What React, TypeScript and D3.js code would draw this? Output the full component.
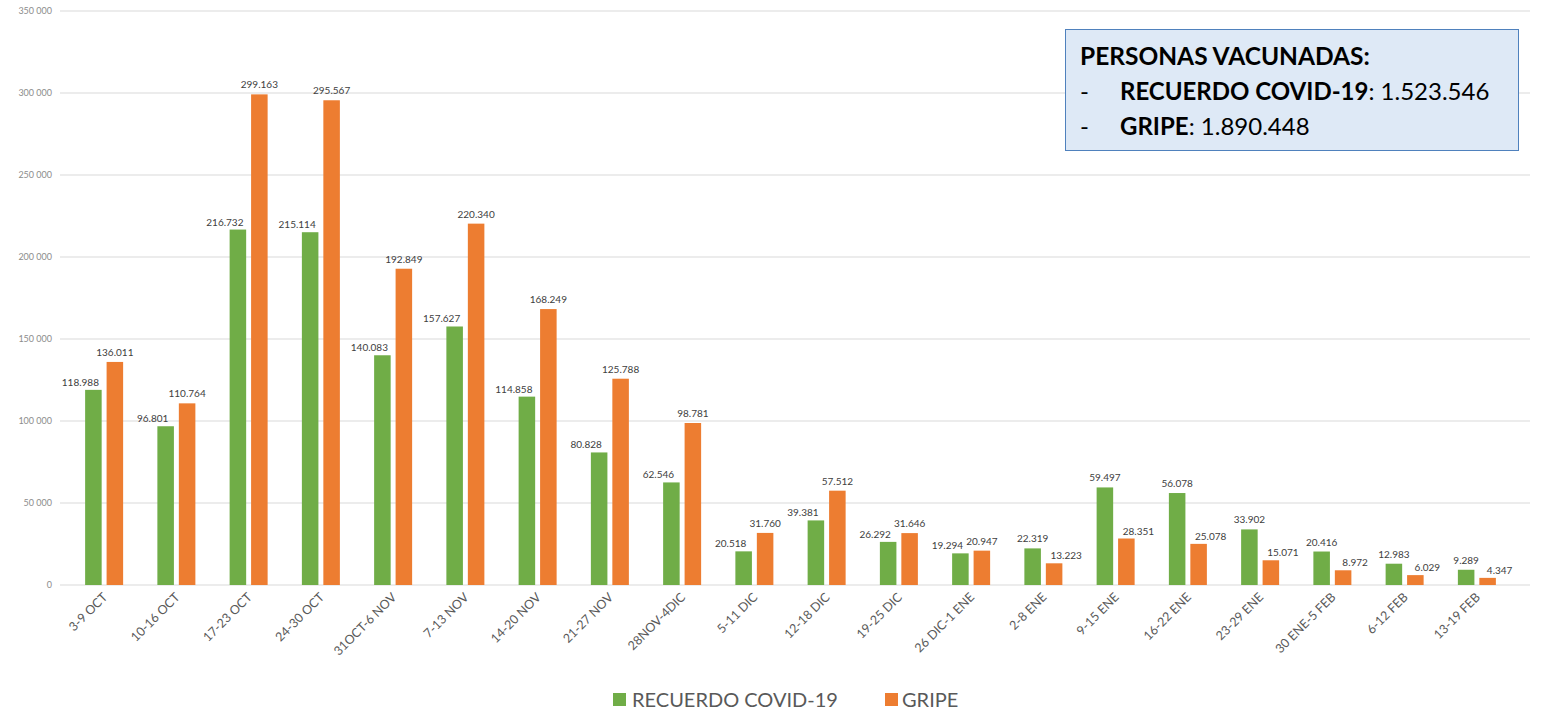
import React from "react";
import * as d3 from "d3";

const categories = [
  "3-9 OCT", "10-16 OCT", "17-23 OCT", "24-30 OCT", "31OCT-6 NOV", "7-13 NOV",
  "14-20 NOV", "21-27 NOV", "28NOV-4DIC", "5-11 DIC", "12-18 DIC", "19-25 DIC",
  "26 DIC-1 ENE", "2-8 ENE", "9-15 ENE", "16-22 ENE", "23-29 ENE", "30 ENE-5 FEB",
  "6-12 FEB", "13-19 FEB",
];
const covidValues = [
  118988, 96801, 216732, 215114, 140083, 157627, 114858, 80828, 62546, 20518,
  39381, 26292, 19294, 22319, 59497, 56078, 33902, 20416, 12983, 9289,
];
const gripeValues = [
  136011, 110764, 299163, 295567, 192849, 220340, 168249, 125788, 98781, 31760,
  57512, 31646, 20947, 13223, 28351, 25078, 15071, 8972, 6029, 4347,
];
const seriesNames = ["RECUERDO COVID-19", "GRIPE"];
const seriesColors = ["#70AD47", "#ED7D31"];
const yTicks = [0, 50000, 100000, 150000, 200000, 250000, 300000, 350000];
const totalCovid = "1.523.546";
const totalGripe = "1.890.448";

const FONT = "Lato, 'Open Sans', sans-serif";

const spaceFmt = d3.formatLocale({ decimal: ",", thousands: " ", grouping: [3], currency: ["", ""] }).format(",d");
const dotFmt = d3.formatLocale({ decimal: ",", thousands: ".", grouping: [3], currency: ["", ""] }).format(",d");

export default function App() {
  const W = 1550, H = 714;
  const x0 = d3.scaleBand<string>().domain(categories).range([68, 1513]).paddingInner(0).paddingOuter(0);
  const x1 = d3.scaleBand<string>().domain(seriesNames).range([-19, 19]).paddingInner(0.23);
  const y = d3.scaleLinear().domain([0, 350000]).range([585, 11]);
  const series = [covidValues, gripeValues];

  return (
    <svg width={W} height={H} style={{ position: "absolute", left: 0, top: 0, background: "#fff" }}>
      <rect x={0} y={0} width={W} height={H} fill="#fff" />
      {yTicks.map((t) => (
        <g key={t}>
          <line x1={60} x2={1530} y1={y(t)} y2={y(t)} stroke="#d9d9d9" strokeWidth={1} />
          <text x={52} y={y(t) + 3} textAnchor="end" fontFamily={FONT} fontSize={9} fill="#8c8c8c">
            {spaceFmt(t)}
          </text>
        </g>
      ))}
      {categories.map((c, i) => {
        const cx = (x0(c) as number) + x0.bandwidth() / 2;
        return (
          <g key={c}>
            {series.map((vals, s) => {
              const v = vals[i];
              const bx = cx + (x1(seriesNames[s]) as number);
              const other = series[1 - s][i];
              let dx = 0;
              if (v < other) dx = s === 0 ? -13 : 12;
              return (
                <g key={s}>
                  <rect x={bx} y={y(v)} width={x1.bandwidth()} height={y(0) - y(v)} fill={seriesColors[s]} />
                  <text
                    x={bx + x1.bandwidth() / 2 + dx}
                    y={y(v) - (dx !== 0 ? 4 : 6)}
                    textAnchor="middle"
                    fontFamily={FONT}
                    fontSize={10}
                    fill="#404040"
                  >
                    {dotFmt(v)}
                  </text>
                </g>
              );
            })}
            <text
              transform={`translate(${cx + 4},${598}) rotate(-45)`}
              textAnchor="end"
              fontFamily={FONT}
              fontSize={12.5}
              fill="#595959"
            >
              {c}
            </text>
          </g>
        );
      })}
      {/* legend */}
      <rect x={613} y={693} width={13} height={13} fill={seriesColors[0]} />
      <text x={632} y={707} fontFamily={FONT} fontSize={20} fill="#595959">{seriesNames[0]}</text>
      <rect x={885} y={693} width={13} height={13} fill={seriesColors[1]} />
      <text x={902} y={707} fontFamily={FONT} fontSize={20} fill="#595959">{seriesNames[1]}</text>
      {/* summary box */}
      <rect x={1065.5} y={29.5} width={453} height={121} fill="#dee9f6" stroke="#4f81bd" strokeWidth={1} />
      <text x={1080} y={65} fontFamily={FONT} fontSize={24.5} fontWeight="bold" fill="#000">PERSONAS VACUNADAS:</text>
      <text x={1080} y={100} fontFamily={FONT} fontSize={24} fill="#000">-</text>
      <text x={1120} y={100} fontFamily={FONT} fontSize={24} fill="#000">
        <tspan fontWeight="bold">{seriesNames[0]}</tspan>
        <tspan>: {totalCovid}</tspan>
      </text>
      <text x={1080} y={135} fontFamily={FONT} fontSize={24} fill="#000">-</text>
      <text x={1120} y={135} fontFamily={FONT} fontSize={24} fill="#000">
        <tspan fontWeight="bold">{seriesNames[1]}</tspan>
        <tspan>: {totalGripe}</tspan>
      </text>
    </svg>
  );
}
